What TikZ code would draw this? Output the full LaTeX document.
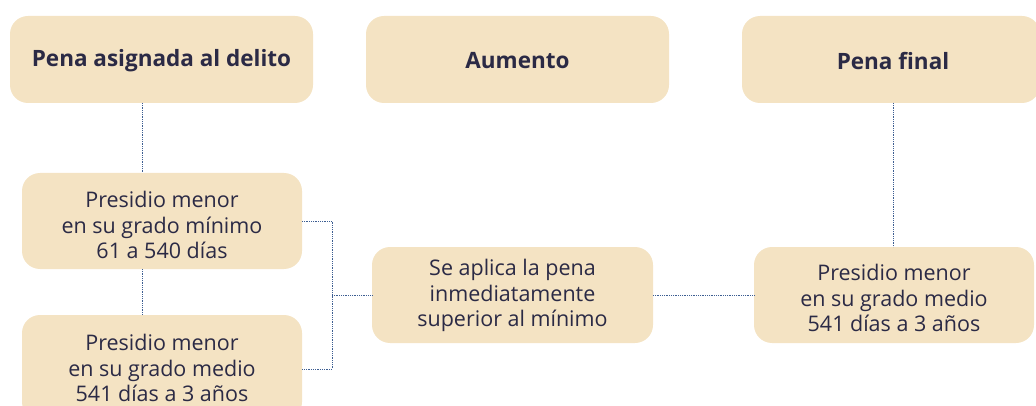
\documentclass[tikz,border=0pt]{standalone}
\usepackage{fontspec}
\setmainfont{Open Sans}
\definecolor{boxfill}{HTML}{F4E3C3}
\definecolor{ink}{HTML}{2B2A45}
\definecolor{wire}{HTML}{3D5E92}
\begin{document}
\begin{tikzpicture}[x=1pt,y=-1pt,
  card/.style={fill=boxfill,draw=none,rounded corners=18pt},
  lbl/.style={text=ink,align=center,font=\fontsize{21.5}{25.5}\selectfont,inner sep=0pt},
  head/.style={text=ink,align=center,font=\fontsize{22.5}{26}\selectfont\bfseries,inner sep=0pt},
  wirestyle/.style={draw=wire,line width=0.9pt,dash pattern=on 0.9pt off 0.9pt}]
\useasboundingbox (0,0) rectangle (1036,406);
\begin{scope}
\clip (0,0) rectangle (1036,406);
% boxes
\path[card] (10,16) rectangle (313,103);
\path[card] (366,16) rectangle (669,103);
\path[card] (742,16) rectangle (1040,103);
\path[card] (22,173) rectangle (302,269);
\path[card] (22,315) rectangle (302,420);
\path[card] (372,247) rectangle (653,343);
\path[card] (754,247) rectangle (1034,343);
\end{scope}
\node[head] (h1) at (161.5,61) {Pena asignada al delito};
\node[head] (h2) at (517.5,61) {Aumento};
\node[head] (h3) at (893,61) {Pena final};
\node[lbl] (a) at (162,225) {Presidio menor\\en su grado mínimo\\61 a 540 días};
\node[lbl] (b) at (162,368) {Presidio menor\\en su grado medio\\541 días a 3 años};
\node[lbl] (c) at (512.5,295.5) {Se aplica la pena\\inmediatamente\\superior al mínimo};
\node[lbl] (d) at (894,298) {Presidio menor\\en su grado medio\\541 días a 3 años};
% anchor coordinates on box borders
\coordinate (h1b) at (142,103);
\coordinate (at) at (142,173);
\coordinate (ab) at (142,269);
\coordinate (bt) at (142,315);
\coordinate (ar) at (302,221);
\coordinate (br) at (302,369);
\coordinate (j) at (332,295.5);
\coordinate (cl) at (372,295.5);
\coordinate (cr) at (653,295.5);
\coordinate (dl) at (754,295.5);
\coordinate (h3b) at (893,103);
\coordinate (dt) at (893,247);
\draw[wirestyle] (h1b) -- (at);
\draw[wirestyle] (ab) -- (bt);
\draw[wirestyle] (ar) -| (j) |- (br);
\draw[wirestyle] (j) -- (cl);
\draw[wirestyle] (cr) -- (dl);
\draw[wirestyle] (h3b) -- (dt);
\end{tikzpicture}
\end{document}
